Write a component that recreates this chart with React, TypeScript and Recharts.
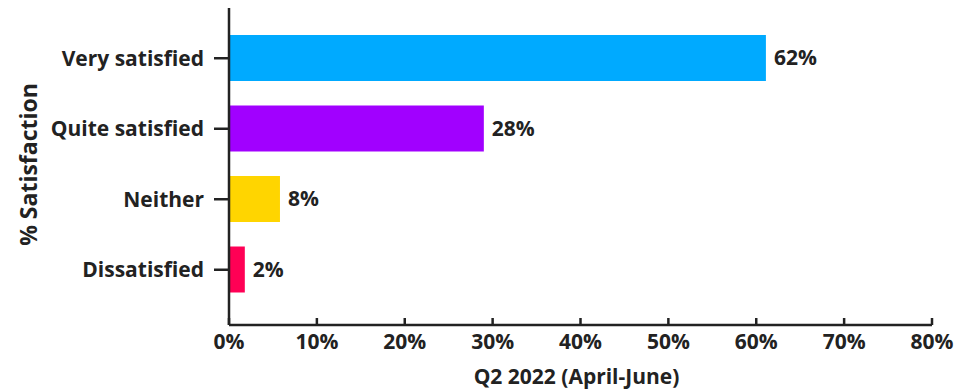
import React from 'react';
import { BarChart, Bar, XAxis, YAxis, LabelList, Cell } from 'recharts';

const categories = ['Very satisfied', 'Quite satisfied', 'Neither', 'Dissatisfied'];
const values = [61.1, 29.0, 5.8, 1.8];
const valueLabels = ['62%', '28%', '8%', '2%'];
const barColors = ['#00AAFF', '#A100FF', '#FFD500', '#FF0055'];
const xTicks = [0, 10, 20, 30, 40, 50, 60, 70, 80];
const xTitle = 'Q2 2022 (April-June)';
const yTitle = '% Satisfaction';

const data = categories.map((c, i) => ({ category: c, value: values[i], label: valueLabels[i] }));

const FONT = '"Open Sans", Lato, sans-serif';
const INK = '#222222';

const YTitle = (props: any) => {
  const vb = props.viewBox || {};
  const cx = 28;
  const cy = vb.y + vb.height / 2 - 2;
  return (
    <text
      x={cx}
      y={cy}
      transform={`rotate(-90 ${cx} ${cy})`}
      textAnchor="middle"
      dominantBaseline="central"
      fill={INK}
      style={{ fontFamily: FONT, fontWeight: 700, fontSize: 23 }}
    >
      {yTitle}
    </text>
  );
};

const XTitle = (props: any) => {
  const vb = props.viewBox || {};
  const cx = vb.x + vb.width / 2 - 4;
  const cy = vb.y + 51;
  return (
    <text
      x={cx}
      y={cy}
      textAnchor="middle"
      dominantBaseline="central"
      fill={INK}
      style={{ fontFamily: FONT, fontWeight: 700, fontSize: 21 }}
    >
      {xTitle}
    </text>
  );
};

const tickStyle = { fill: INK, fontFamily: FONT, fontWeight: 700, fontSize: 21 };

export default function App() {
  return (
    <div style={{ position: 'absolute', left: 0, top: 0, background: '#fff' }}>
      <BarChart
        width={977}
        height={390}
        data={data}
        layout="vertical"
        margin={{ top: 8, right: 45, bottom: 0, left: 0 }}
      >
        <XAxis
          type="number"
          domain={[0, 80]}
          ticks={xTicks}
          interval={0}
          height={65}
          tickFormatter={(v: number) => `${v}%`}
          axisLine={{ stroke: INK, strokeWidth: 2.5 }}
          tickLine={{ stroke: INK, strokeWidth: 2.5 }}
          tickSize={-7}
          tickMargin={16}
          tick={tickStyle}
          label={<XTitle />}
        />
        <YAxis
          type="category"
          dataKey="category"
          width={229}
          padding={{ top: 15, bottom: 20 }}
          axisLine={{ stroke: INK, strokeWidth: 2.5 }}
          tickLine={{ stroke: INK, strokeWidth: 2.5 }}
          tickSize={15}
          tickMargin={10}
          tick={tickStyle}
          label={<YTitle />}
        />
        <Bar dataKey="value" barSize={46} isAnimationActive={false}>
          {data.map((d, i) => (
            <Cell key={d.category} fill={barColors[i]} />
          ))}
          <LabelList
            dataKey="label"
            position="right"
            offset={8}
            fill={INK}
            style={{ fontFamily: FONT, fontWeight: 700, fontSize: 21 }}
          />
        </Bar>
      </BarChart>
    </div>
  );
}
